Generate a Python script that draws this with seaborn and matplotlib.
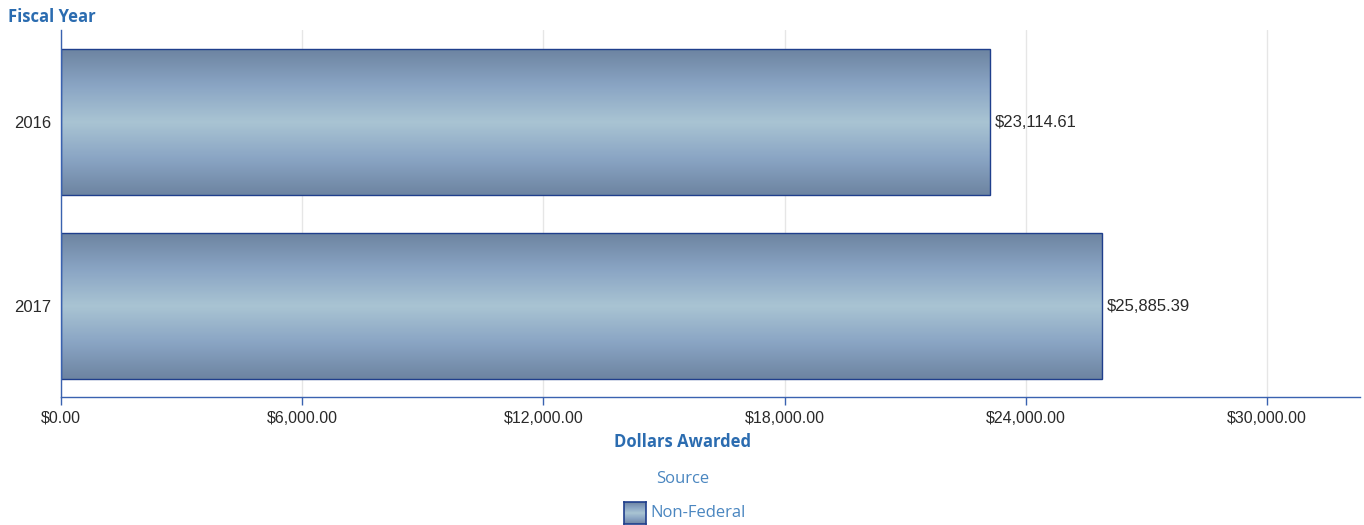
"""Dollars awarded by fiscal year (Non-Federal source)."""

import numpy as np
import pandas as pd
import matplotlib
matplotlib.use("Agg")
import matplotlib.pyplot as plt
import seaborn as sns
from matplotlib.colors import LinearSegmentedColormap
from matplotlib.ticker import FuncFormatter, MultipleLocator

# Data
fiscal_years = ["2016", "2017"]
dollars_awarded = [23114.61, 25885.39]
source = "Non-Federal"

df = pd.DataFrame({"Fiscal Year": fiscal_years, "Dollars Awarded": dollars_awarded})

sns.set_theme(style="white")
plt.rcParams["font.family"] = ["Liberation Sans", "DejaVu Sans"]

title_blue = "#2b6cb0"
axis_blue = "#3a62b0"
edge_blue = "#1f3e8c"

# vertical gradient: dark at edges, light in middle
grad_cmap = LinearSegmentedColormap.from_list(
    "bar_grad", ["#6d84a1", "#8aa5c4", "#a9c4d3", "#8aa5c4", "#6d84a1"]
)
gradient = np.linspace(0, 1, 256).reshape(-1, 1)

fig = plt.figure(figsize=(13.64, 5.25), dpi=100)
ax = fig.add_axes([61 / 1364, 128 / 525, 1299 / 1364, 367 / 525])

sns.barplot(data=df, x="Dollars Awarded", y="Fiscal Year", orient="h",
            width=0.79, color="#8aa5c4", edgecolor=edge_blue, linewidth=1.0, ax=ax)

# paint gradients into each bar
for patch in ax.patches:
    x0, y0 = patch.get_x(), patch.get_y()
    w, h = patch.get_width(), patch.get_height()
    im = ax.imshow(gradient, cmap=grad_cmap, aspect="auto",
                   extent=[x0, x0 + w, y0 + h, y0], zorder=patch.get_zorder() + 0.1)
    im.set_clip_path(patch)
    patch.set_facecolor("none")
    patch.set_zorder(patch.get_zorder() + 0.2)

for i, val in enumerate(dollars_awarded):
    ax.text(val + 120, i + 0.005, f"${val:,.2f}", va="center", ha="left",
            fontsize=12, color="#2a2a2a")

ax.set_xlim(0, 32313)
ax.set_ylim(1.495, -0.5)
ax.xaxis.set_major_locator(MultipleLocator(6000))
ax.xaxis.set_major_formatter(FuncFormatter(lambda v, p: f"${v:,.2f}"))
ax.grid(True, axis="x", color="#e6e6e6", linewidth=1)
ax.set_axisbelow(True)

for side in ["top", "right"]:
    ax.spines[side].set_visible(False)
for side in ["left", "bottom"]:
    ax.spines[side].set_color(axis_blue)
    ax.spines[side].set_linewidth(1.0)

ax.tick_params(axis="x", bottom=True, length=6, width=1, color=axis_blue,
               labelsize=11.5, labelcolor="#2a2a2a", pad=4)
ax.tick_params(axis="y", left=False, length=0, labelsize=12,
               labelcolor="#2a2a2a", pad=7)
ax.set_xlabel("")
ax.set_ylabel("")

title_font = ["Open Sans", "DejaVu Sans"]
fig.text(8 / 1364, 1 - 17 / 525, "Fiscal Year", ha="left", va="center",
         fontsize=12, fontweight="bold", color=title_blue, family=title_font)
fig.text(683 / 1364, 1 - 442 / 525, "Dollars Awarded", ha="center", va="center",
         fontsize=12, fontweight="bold", color=title_blue, family=title_font)
fig.text(683 / 1364, 1 - 479 / 525, "Source", ha="center", va="center",
         fontsize=12, color="#4a86c0", family=title_font)

# legend swatch
lax = fig.add_axes([624 / 1364, 1 - 524 / 525, 22 / 1364, 22 / 525])
lax.imshow(gradient, cmap=grad_cmap, aspect="auto", extent=[0, 1, 1, 0])
lax.set_xticks([])
lax.set_yticks([])
for s in lax.spines.values():
    s.set_color(edge_blue)
    s.set_linewidth(1.2)
fig.text(650 / 1364, 1 - 513 / 525, source, ha="left", va="center",
         fontsize=12, color="#4a86c0", family=title_font)

fig.savefig("out.png", dpi=100)
plt.close(fig)
